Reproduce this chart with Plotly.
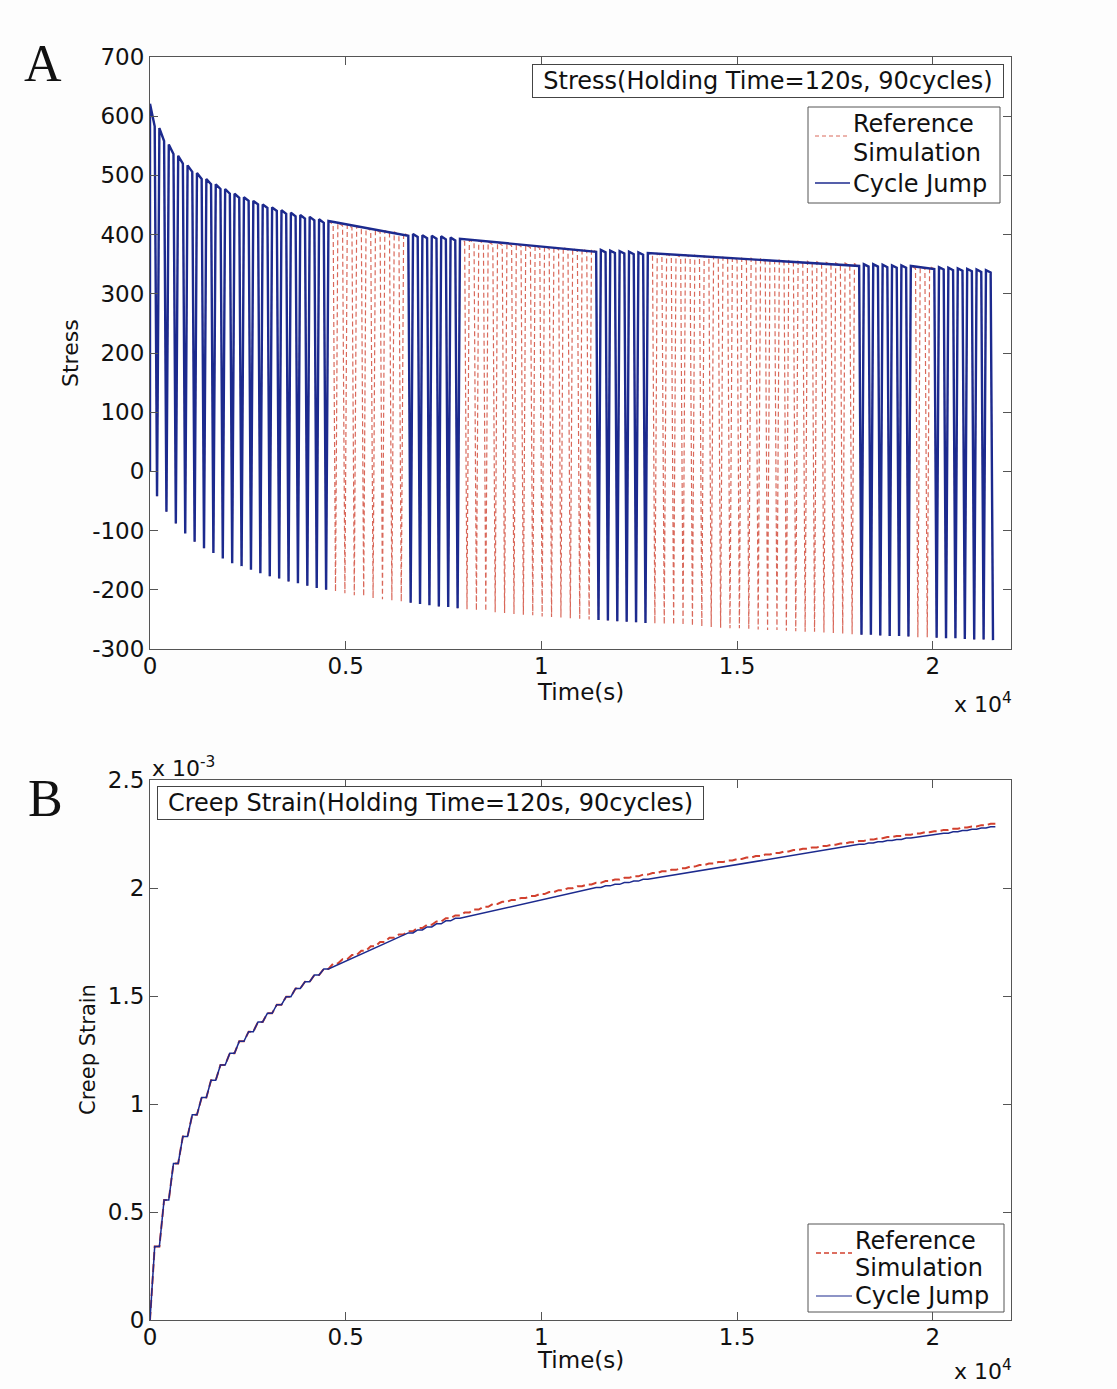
import plotly.graph_objects as go

# ---------------- data ----------------
n_cycles = 90
period_s = 240          # 90 cycles over ~21600 s
hold_s = 120            # holding time at peak

# stress at start of each hold (peak), at end of hold, and at the valley
peak_start = [621, 580, 552, 533, 517, 504, 494, 485, 477, 469, 463, 457, 451, 446, 441, 437, 433, 430, 426, 423,
              420, 417, 414, 412, 409, 407, 405, 403, 401, 399, 398, 397, 395, 393,
              391, 390, 388, 387, 386, 385, 383, 382, 381, 380, 379, 377, 376, 375, 374, 373, 372, 371, 370,
              369, 368, 367, 366, 366, 365, 364, 363, 362, 361, 360, 360, 359, 358, 357, 356, 355, 355, 354, 353, 352, 352, 351,
              350, 350, 349, 348, 348, 347, 346, 346, 345, 344, 343, 342, 341, 340]
peak_end = [583, 558, 536, 520, 506, 494, 485, 477, 469, 462, 457, 451, 445, 440, 435, 431, 427, 424, 420, 417,
            415, 412, 409, 407, 404, 402, 400, 398, 396, 394, 393, 392, 390, 388,
            386, 385, 383, 382, 381, 380, 378, 377, 376, 375, 374, 372, 372, 371, 370, 369, 368, 367, 366,
            365, 364, 363, 362, 362, 361, 360, 359, 358, 357, 356, 356, 355, 354, 353, 352, 351, 351, 350, 349, 348, 348, 347,
            346, 346, 345, 344, 344, 343, 342, 342, 341, 340, 339, 338, 337, 336]
valley = [-42, -68, -88, -105, -119, -130, -138, -147, -155, -160, -166, -172, -177, -181, -186, -189, -193, -197, -200,
          -203, -206, -209, -211, -214, -216, -218, -220, -222, -224, -226, -228, -229, -231,
          -233, -235, -236, -238, -239, -241, -242, -243, -245, -246, -247, -248, -249, -250, -251,
          -252, -253, -254, -255, -256, -257, -258, -259, -260, -261, -262, -263, -264, -265, -265, -266, -267, -268,
          -268, -269, -270, -271, -271, -272, -273, -274, -275, -276, -276, -277, -278, -278, -279, -280, -280, -281,
          -282, -282, -283, -284, -284, -285]

# creep strain (x 1e-3) at end of each cycle
creep_ref = [0.34, 0.556, 0.725, 0.85, 0.95, 1.03, 1.11, 1.18, 1.235, 1.29, 1.335, 1.38, 1.42, 1.46, 1.497, 1.535,
             1.566, 1.597, 1.625, 1.65,
             1.67, 1.69, 1.71, 1.73, 1.75, 1.77, 1.785, 1.80, 1.815, 1.83, 1.845, 1.86, 1.873, 1.886, 1.90, 1.913,
             1.926, 1.936, 1.945, 1.954, 1.963, 1.972, 1.981, 1.990, 1.999, 2.008, 2.016,
             2.024, 2.032, 2.039, 2.047, 2.054, 2.062, 2.069, 2.077, 2.084, 2.092, 2.099, 2.106,
             2.113, 2.120, 2.127, 2.134, 2.141, 2.148, 2.155, 2.162, 2.169, 2.176,
             2.182, 2.188, 2.194, 2.200, 2.206, 2.212, 2.218, 2.224, 2.230, 2.236, 2.241,
             2.247, 2.252, 2.258, 2.263, 2.269, 2.274, 2.280, 2.285, 2.291, 2.297]
creep_cj = [0.34, 0.556, 0.725, 0.85, 0.95, 1.03, 1.11, 1.18, 1.235, 1.29, 1.335, 1.38, 1.42, 1.46, 1.497, 1.535,
            1.566, 1.597, 1.625, 1.65, 1.669,
            1.688, 1.707, 1.726, 1.745, 1.764, 1.778, 1.792, 1.806, 1.820, 1.834, 1.848, 1.860, 1.872, 1.884, 1.895,
            1.906, 1.916, 1.925, 1.933, 1.942, 1.951, 1.960, 1.969, 1.977, 1.986, 1.994, 2.002, 2.010, 2.017, 2.025,
            2.032, 2.040, 2.047, 2.055, 2.062, 2.070, 2.077, 2.084, 2.091, 2.098, 2.105, 2.113, 2.120, 2.127, 2.134,
            2.142, 2.149, 2.156, 2.163, 2.169, 2.176, 2.182, 2.189, 2.195, 2.202, 2.208, 2.214, 2.220, 2.225, 2.231,
            2.236, 2.242, 2.248, 2.254, 2.260, 2.266, 2.272, 2.278, 2.284]

# cycle jumps of the Cycle Jump method: (from cycle, to cycle)
jump_from = [19, 33, 53, 81]
jump_to = [27, 47, 75, 83]

stress_ticks = [-300, -200, -100, 0, 100, 200, 300, 400, 500, 600, 700]
stress_ticktext = ["-300", "-200", "-100", "0", "100", "200", "300", "400", "500", "600", "700"]
time_ticks = [0, 5000, 10000, 15000, 20000]
time_ticktext = ["0", "0.5", "1", "1.5", "2"]
creep_ticks = [0, 0.5, 1, 1.5, 2, 2.5]
creep_ticktext = ["0", "0.5", "1", "1.5", "2", "2.5"]
legend_names = ["Reference", "Simulation", "Cycle Jump"]

assert len(peak_start) == len(peak_end) == len(valley) == len(creep_ref) == len(creep_cj) == n_cycles

# ---------------- build curves ----------------
ramp_s = (period_s - hold_s) / 2
jumps = dict(zip(jump_from, jump_to))


def stress_curve(use_jumps):
    t, s = [0], [0]
    k = 0
    while k < n_cycles:
        t0 = k * period_s
        if use_jumps and k in jumps:
            j = jumps[k]
            t += [t0, j * period_s + hold_s, j * period_s + hold_s + ramp_s]
            s += [peak_start[k], peak_end[j], valley[j]]
            k = j + 1
        else:
            t += [t0, t0 + hold_s, t0 + hold_s + ramp_s]
            s += [peak_start[k], peak_end[k], valley[k]]
            k += 1
    return t, s


def creep_curve(vals, use_jumps):
    t, e = [0], [0]
    prev = 0
    k = 0
    while k < n_cycles:
        t0 = k * period_s
        if use_jumps and k in jumps:
            j = jumps[k]
            t += [t0, j * period_s + hold_s]
            e += [prev, vals[j]]
            prev = vals[j]
            k = j + 1
        else:
            t += [t0, t0 + hold_s]
            e += [prev, vals[k]]
            prev = vals[k]
            k += 1
    t.append(n_cycles * period_s)
    e.append(prev)
    return t, e


t_ref, s_ref = stress_curve(False)
t_cj, s_cj = stress_curve(True)
tc_ref, e_ref = creep_curve(creep_ref, False)
tc_cj, e_cj = creep_curve(creep_cj, True)

# ---------------- figure ----------------
W, H = 1117, 1389
FONT = "DejaVu Sans"
BLUE = "#1c2a8e"
RED_TOP = "#d9685a"
RED_BOT = "#d2402e"
AX = "#555555"
TXT = "#111111"


def px_x(p):
    return p / W


def px_y(p):
    return 1 - p / H


fig = go.Figure()
fig.add_trace(go.Scatter(x=t_ref, y=s_ref, mode="lines", name="Reference Simulation",
                         line=dict(color=RED_TOP, width=1.2, dash="5px,3px"), xaxis="x", yaxis="y"))
fig.add_trace(go.Scatter(x=t_cj, y=s_cj, mode="lines", name="Cycle Jump",
                         line=dict(color=BLUE, width=2.4), xaxis="x", yaxis="y"))
fig.add_trace(go.Scatter(x=tc_ref, y=e_ref, mode="lines", name="Reference Simulation",
                         line=dict(color=RED_BOT, width=2, dash="8px,4px"), xaxis="x2", yaxis="y2"))
fig.add_trace(go.Scatter(x=tc_cj, y=e_cj, mode="lines", name="Cycle Jump",
                         line=dict(color=BLUE, width=1.5), xaxis="x2", yaxis="y2"))

xdom = [px_x(150), px_x(1011)]
axis_common = dict(showline=True, linecolor=AX, linewidth=1, mirror="ticks", ticks="inside",
                   ticklen=8, tickcolor=AX, showgrid=False, zeroline=False, automargin=False,
                   tickfont=dict(family=FONT, size=23, color=TXT))

fig.update_layout(
    width=W, height=H,
    margin=dict(l=0, r=0, t=0, b=0),
    paper_bgcolor="#fdfdfd", plot_bgcolor="#ffffff",
    font=dict(family=FONT, color=TXT),
    showlegend=False,
    xaxis=dict(domain=xdom, anchor="y", range=[0, 22000], tickvals=time_ticks,
               ticktext=time_ticktext, ticklabelstandoff=-4, **axis_common),
    yaxis=dict(domain=[px_y(649), px_y(57)], anchor="x", range=[-300, 700],
               tickvals=stress_ticks, ticktext=stress_ticktext, **axis_common),
    xaxis2=dict(domain=xdom, anchor="y2", range=[0, 22000], tickvals=time_ticks,
                ticktext=time_ticktext, ticklabelstandoff=-4, **axis_common),
    yaxis2=dict(domain=[px_y(1320), px_y(780)], anchor="x2", range=[0, 2.5],
                tickvals=creep_ticks, ticktext=creep_ticktext, **axis_common),
)

ann = [
    dict(text="Stress(Holding Time=120s, 90cycles)", x=px_x(768), y=px_y(81),
         font=dict(family=FONT, size=24), bordercolor="#444", borderwidth=1, borderpad=2, bgcolor="#ffffff",
         width=466, height=28),
    dict(text="Creep Strain(Holding Time=120s, 90cycles)", x=px_x(430), y=px_y(803),
         font=dict(family=FONT, size=24), bordercolor="#444", borderwidth=1, borderpad=2, bgcolor="#ffffff",
         width=541, height=28),
    dict(text="Time(s)", x=px_x(580), y=px_y(692), font=dict(family=FONT, size=23)),
    dict(text="Time(s)", x=px_x(580), y=px_y(1360), font=dict(family=FONT, size=23)),
    dict(text="Stress", x=px_x(71), y=px_y(353), textangle=-90, font=dict(family=FONT, size=22)),
    dict(text="Creep Strain", x=px_x(88), y=px_y(1050), textangle=-90, font=dict(family=FONT, size=21)),
    dict(text="x 10<sup>4</sup>", x=px_x(1014), y=px_y(703), xanchor="right", font=dict(family=FONT, size=22)),
    dict(text="x 10<sup>4</sup>", x=px_x(1014), y=px_y(1370), xanchor="right", font=dict(family=FONT, size=22)),
    dict(text="x 10<sup>-3</sup>", x=px_x(150), y=px_y(767), xanchor="left", font=dict(family=FONT, size=22)),
    dict(text="A", x=px_x(43), y=px_y(63), font=dict(family="Liberation Serif", size=52)),
    dict(text="B", x=px_x(45), y=px_y(798), font=dict(family="Liberation Serif", size=52)),
]

shapes = []


def add_legend(box, text_x, text_ys, red_y, blue_y, sample_x, red_color, red_width, red_dash, blue_width):
    x0, y0, x1, y1 = box
    shapes.append(dict(type="rect", xref="paper", yref="paper", x0=px_x(x0), x1=px_x(x1),
                       y0=px_y(y1), y1=px_y(y0), line=dict(color="#555", width=1), fillcolor="#ffffff",
                       layer="above"))
    shapes.append(dict(type="line", xref="paper", yref="paper", x0=px_x(sample_x[0]), x1=px_x(sample_x[1]),
                       y0=px_y(red_y), y1=px_y(red_y),
                       line=dict(color=red_color, width=red_width, dash=red_dash), layer="above"))
    shapes.append(dict(type="line", xref="paper", yref="paper", x0=px_x(sample_x[0]), x1=px_x(sample_x[1]),
                       y0=px_y(blue_y), y1=px_y(blue_y),
                       line=dict(color=BLUE, width=blue_width), layer="above"))
    for name, ty in zip(legend_names, text_ys):
        ann.append(dict(text=name, x=px_x(text_x), y=px_y(ty), xanchor="left",
                        font=dict(family=FONT, size=24)))


add_legend((808, 107, 1000, 203), 851, [124, 153, 184], 136, 183, (815, 850), RED_TOP, 1, "4px,3px", 1.5)
add_legend((808, 1224, 1004, 1312), 853, [1241, 1268, 1296], 1253, 1296, (816, 852), RED_BOT, 1.5, "5px,3px", 1.2)

for a in ann:
    a.update(xref="paper", yref="paper", showarrow=False)
    a.setdefault("xanchor", "center")
    a.setdefault("yanchor", "middle")
fig.update_layout(annotations=ann, shapes=shapes)

fig.write_html("out.html")
